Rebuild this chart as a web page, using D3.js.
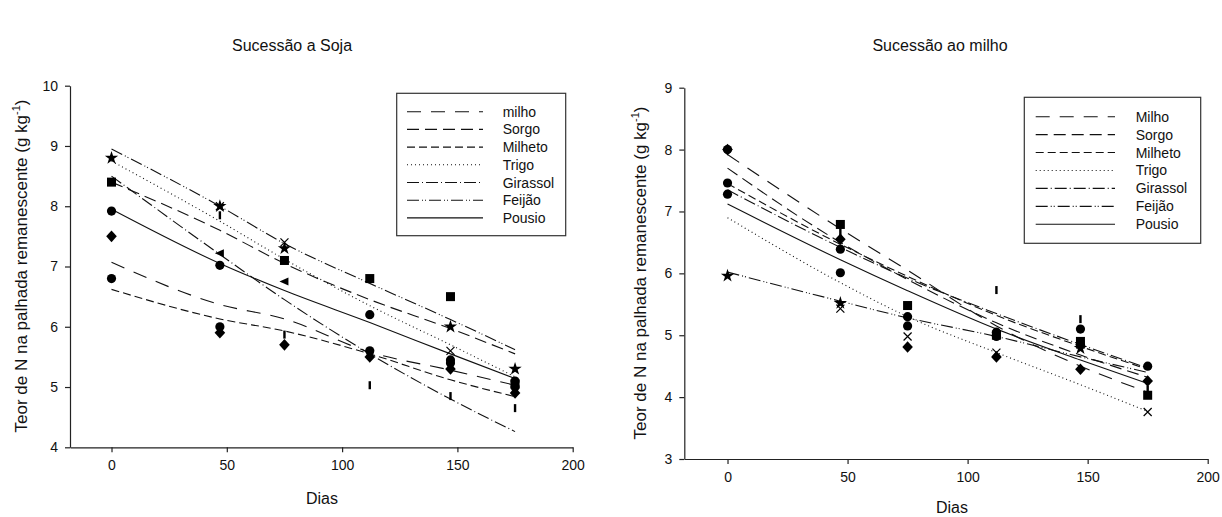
<!DOCTYPE html>
<html><head><meta charset="utf-8">
<script src="https://cdn.jsdelivr.net/npm/d3@7"></script>
<style>
body{margin:0;background:#fff;}
text{font-family:"Liberation Sans",Arial,sans-serif;fill:#111;}
</style></head>
<body><svg id="c" width="1222" height="517"></svg>
<script>
// ---- data ----
const days = [0, 47, 75, 112, 147, 175];
const seriesNames = ["milho", "Sorgo", "Milheto", "Trigo", "Girassol", "Feijão", "Pousio"];
const seriesNamesRight = ["Milho", "Sorgo", "Milheto", "Trigo", "Girassol", "Feijão", "Pousio"];
const markerShapes = ["circle", "square", "vbar", "cross", "diamond", "star", "circle"];
const xTicks = [0, 50, 100, 150, 200];
const yTicksLeft = [4, 5, 6, 7, 8, 9, 10];
const yTicksRight = [3, 4, 5, 6, 7, 8, 9];

// Sucessão a Soja: observed points (null = not visible)
const soja_milho    = [6.8, 6.0, null, 5.6, 5.4, 5.1];
const soja_sorgo    = [8.4, null, 7.1, 6.8, 6.5, 5.05];
const soja_milheto  = [null, 7.85, 5.87, 5.03, 4.85, 4.65];
const soja_trigo    = [null, 8.0, 7.4, null, 5.6, null];
const soja_girassol = [7.5, 5.9, 5.7, 5.5, 5.3, 4.9];
const soja_feijao   = [8.8, 8.0, 7.3, null, 6.0, 5.3];
const soja_pousio   = [7.92, 7.02, null, 6.2, 5.45, 5.0];
const soja_extraDays = [47, 75];
const soja_extraVals = [7.22, 6.75];
// Sucessão a Soja: fitted curves
const sojaFit_milho    = [7.07, 6.37, 6.13, 5.58, 5.28, 5.03];
const sojaFit_sorgo    = [8.4, 7.6, 7.05, 6.45, 5.97, 5.55];
const sojaFit_milheto  = [6.62, 6.13, 5.93, 5.55, 5.12, 4.84];
const sojaFit_trigo    = [8.75, 7.75, 7.12, 6.35, 5.7, 5.17];
const sojaFit_girassol = [8.5, 7.2, 6.45, 5.55, 4.8, 4.26];
const sojaFit_feijao   = [8.95, 8.0, 7.38, 6.72, 6.12, 5.62];
const sojaFit_pousio   = [7.95, 7.05, 6.6, 6.07, 5.55, 5.14];

// Sucessão ao milho: observed points
const milho_milho    = [8.0, 6.01, 5.3, 5.05, 5.1, 4.5];
const milho_sorgo    = [null, 6.79, 5.48, 5.0, 4.9, 4.03];
const milho_milheto  = [null, 6.66, null, 5.73, 5.26, 4.12];
const milho_trigo    = [null, 5.43, 4.98, 4.72, 4.85, 3.76];
const milho_girassol = [8.0, 6.55, 4.81, 4.65, 4.45, 4.26];
const milho_feijao   = [5.96, 5.52, null, null, 4.79, null];
const milho_pousio   = [7.46, 6.39, 5.15, 4.98, 4.85, null];
const milho_extraDays = [0];
const milho_extraVals = [7.28];
// Sucessão ao milho: fitted curves
const milhoFit_milho    = [7.92, 6.72, 6.05, 5.15, 4.5, 4.08];
const milhoFit_sorgo    = [7.7, 6.5, 5.9, 5.2, 4.68, 4.32];
const milhoFit_milheto  = [7.45, 6.47, 5.95, 5.32, 4.82, 4.45];
const milhoFit_trigo    = [6.9, 5.85, 5.3, 4.72, 4.2, 3.77];
const milhoFit_girassol = [7.35, 6.42, 5.92, 5.35, 4.85, 4.47];
const milhoFit_feijao   = [6.02, 5.55, 5.28, 4.98, 4.65, 4.4];
const milhoFit_pousio   = [7.12, 6.22, 5.72, 5.1, 4.6, 4.22];

const dashes = ["14,10", "12,6", "8,4", "1,3", "12,3,1,3", "12,3,1,2,1,3", null];

// ---- drawing ----
const svg = d3.select("#c");

function drawPanel(cfg) {
  const x = d3.scaleLinear().domain([-18, 200]).range([cfg.x0, cfg.x1]);
  const y = d3.scaleLinear().domain(cfg.yDomain).range([cfg.yb, cfg.yt]);
  const g = svg.append("g");

  const xa = g.append("g").attr("transform", `translate(0,${cfg.yb})`)
    .call(d3.axisBottom(x).tickValues(xTicks).tickFormat(d3.format("d")).tickSize(5).tickSizeOuter(0).tickPadding(8));
  const ya = g.append("g").attr("transform", `translate(${cfg.x0},0)`)
    .call(d3.axisLeft(y).tickValues(cfg.yTicks).tickFormat(d3.format("d")).tickSize(5).tickSizeOuter(0).tickPadding(7));
  [xa, ya].forEach(a => {
    a.select(".domain").attr("stroke", "#222").attr("stroke-width", 1.2);
    a.selectAll(".tick line").attr("stroke", "#222").attr("stroke-width", 1.2);
    a.selectAll(".tick text").style("font-family", "Liberation Sans, Arial").style("font-size", "14px").attr("fill", "#111");
  });

  // fitted curves
  const line = d3.line().x((d, i) => x(days[i])).y(d => y(d)).curve(d3.curveMonotoneX);
  cfg.fits.forEach((f, i) => {
    g.append("path").attr("d", line(f)).attr("fill", "none").attr("stroke", "#111")
      .attr("stroke-width", 1.1).attr("stroke-dasharray", dashes[i]);
  });

  // markers
  function marker(shape, cx, cy) {
    if (shape === "circle") g.append("circle").attr("cx", cx).attr("cy", cy).attr("r", 4.6).attr("fill", "#000");
    else if (shape === "square") g.append("rect").attr("x", cx - 4.5).attr("y", cy - 4.5).attr("width", 9).attr("height", 9).attr("fill", "#000");
    else if (shape === "diamond") g.append("path").attr("d", `M${cx},${cy-5.8}L${cx+5.3},${cy}L${cx},${cy+5.8}L${cx-5.3},${cy}Z`).attr("fill", "#000");
    else if (shape === "vbar") g.append("rect").attr("x", cx - 1.2).attr("y", cy - 4).attr("width", 2.4).attr("height", 8).attr("fill", "#000");
    else if (shape === "cross") g.append("path").attr("d", `M${cx-4},${cy-4}L${cx+4},${cy+4}M${cx-4},${cy+4}L${cx+4},${cy-4}`).attr("stroke", "#000").attr("stroke-width", 1.2);
    else if (shape === "star") g.append("path").attr("d", d3.symbol(d3.symbolStar, 55)()).attr("transform", `translate(${cx},${cy})`).attr("fill", "#000");
    else if (shape === "tri") g.append("path").attr("d", `M${cx-5},${cy}L${cx+4},${cy-4}L${cx+4},${cy+4}Z`).attr("fill", "#000");
  }
  cfg.points.forEach((arr, i) => {
    arr.forEach((v, j) => { if (v != null) marker(markerShapes[i], x(days[j]), y(v)); });
  });
  cfg.extraDays.forEach((d, j) => marker(cfg.extraShape, x(d), y(cfg.extraVals[j])));

  // titles
  g.append("text").attr("x", cfg.titleX).attr("y", cfg.titleY).attr("text-anchor", "middle")
    .style("font-size", "16px").text(cfg.title);
  g.append("text").attr("x", cfg.diasX).attr("y", cfg.diasY).attr("text-anchor", "middle")
    .style("font-size", "16px").text("Dias");
  const yl = g.append("text").attr("transform", `translate(${cfg.ylabX},${cfg.ylabY}) rotate(-90)`)
    .attr("text-anchor", "middle").style("font-size", "17px");
  yl.append("tspan").text("Teor de N na palhada remanescente (g kg");
  yl.append("tspan").attr("dy", -7).style("font-size", "11px").text("-1");
  yl.append("tspan").attr("dy", 7).text(")");

  // legend
  const L = cfg.legend;
  g.append("rect").attr("x", L.x).attr("y", L.y).attr("width", L.w).attr("height", L.h)
    .attr("fill", "#fff").attr("stroke", "#333").attr("stroke-width", 1.2);
  cfg.names.forEach((n, i) => {
    const yy = L.row0 + i * L.dy;
    g.append("line").attr("x1", L.lx0).attr("x2", L.lx1).attr("y1", yy).attr("y2", yy)
      .attr("stroke", "#111").attr("stroke-width", 1.1).attr("stroke-dasharray", dashes[i]);
    g.append("text").attr("x", L.tx).attr("y", yy + 5).style("font-size", "14px").text(n);
  });
}

drawPanel({
  x0: 70, x1: 572.7, yb: 447.3, yt: 85.7, yDomain: [4, 10], yTicks: yTicksLeft,
  fits: [sojaFit_milho, sojaFit_sorgo, sojaFit_milheto, sojaFit_trigo, sojaFit_girassol, sojaFit_feijao, sojaFit_pousio],
  points: [soja_milho, soja_sorgo, soja_milheto, soja_trigo, soja_girassol, soja_feijao, soja_pousio],
  extraDays: soja_extraDays, extraVals: soja_extraVals, extraShape: "tri",
  title: "Sucessão a Soja", titleX: 292, titleY: 51,
  diasX: 322, diasY: 504, ylabX: 27, ylabY: 266,
  names: seriesNames,
  legend: {x: 396.7, y: 93.3, w: 169, h: 142.4, row0: 111.7, dy: 17.7, lx0: 407, lx1: 483, tx: 502.7}
});
drawPanel({
  x0: 684.3, x1: 1207.7, yb: 459, yt: 87.7, yDomain: [3, 9], yTicks: yTicksRight,
  fits: [milhoFit_milho, milhoFit_sorgo, milhoFit_milheto, milhoFit_trigo, milhoFit_girassol, milhoFit_feijao, milhoFit_pousio],
  points: [milho_milho, milho_sorgo, milho_milheto, milho_trigo, milho_girassol, milho_feijao, milho_pousio],
  extraDays: milho_extraDays, extraVals: milho_extraVals, extraShape: "circle",
  title: "Sucessão ao milho", titleX: 940, titleY: 51,
  diasX: 952, diasY: 513, ylabX: 646, ylabY: 273,
  names: seriesNamesRight,
  legend: {x: 1024.3, y: 97.3, w: 176.4, h: 146, row0: 116.7, dy: 17.93, lx0: 1035.7, lx1: 1115, tx: 1135.7}
});
</script></body></html>
